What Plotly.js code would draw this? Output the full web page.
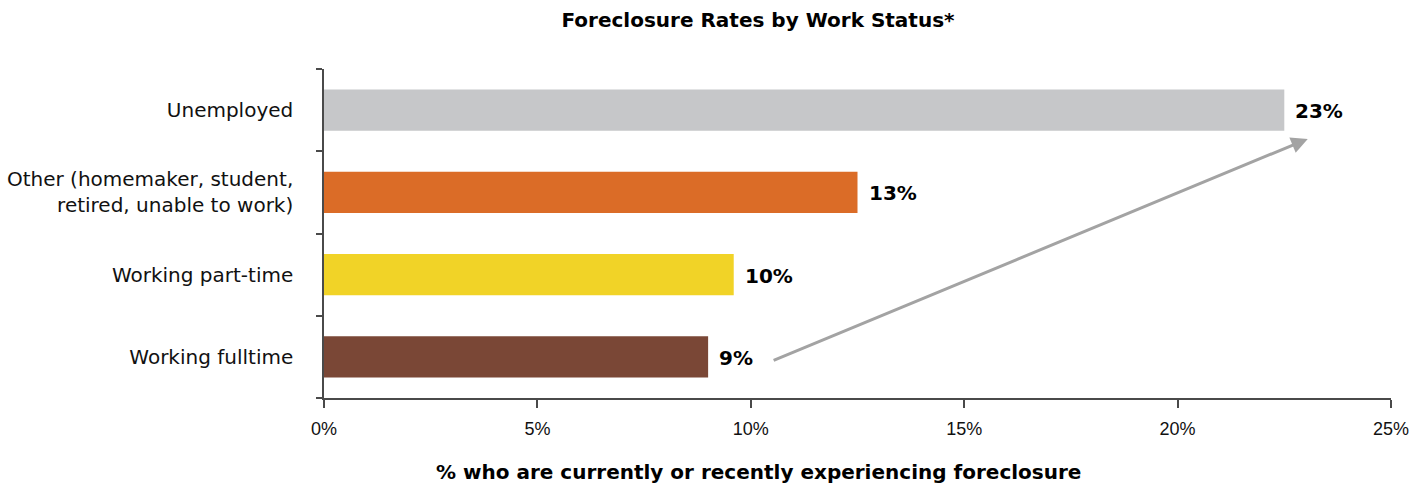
<!DOCTYPE html>
<html>
<head>
<meta charset="utf-8">
<script src="https://cdn.plot.ly/plotly-3.0.1.min.js"></script>
<style>html,body{margin:0;padding:0;background:#fff;}#chart{width:1426px;height:487px;}</style>
</head>
<body>
<div id="chart"></div>
<script>
// Categories (bottom to top)
const categories = ['Working fulltime', 'Working part-time', 'Other (homemaker, student,<br>retired, unable to work)', 'Unemployed'];
const rates = [9.0, 9.6, 12.5, 22.5];
const rateLabels = ['9%', '10%', '13%', '23%'];
const barColors = ['#7a4736', '#f1d327', '#db6c27', '#c6c7c9'];
const xTickVals = [0, 5, 10, 15, 20, 25];
const xTickText = ['0%', '5%', '10%', '15%', '20%', '25%'];
// Trend arrow (x in %, y in category index)
const arrowFrom = [10.5, -0.05];
const arrowTo = [23.05, 2.65];

const trace = {
  type: 'bar',
  orientation: 'h',
  y: categories,
  x: rates,
  marker: {color: barColors},
  hoverinfo: 'x+y'
};

const labelAnns = rates.map((v, i) => ({
  x: v, y: categories[i], xref: 'x', yref: 'y',
  text: '<b>' + rateLabels[i] + '</b>', showarrow: false, xanchor: 'left', xshift: 9, yshift: -1,
  font: {family: 'DejaVu Sans', size: 20, color: '#000'}
}));

const layout = {
  width: 1426, height: 487,
  margin: {l: 324, r: 35, t: 69, b: 89},
  paper_bgcolor: '#fff', plot_bgcolor: '#fff',
  showlegend: false,
  bargap: 0.5,
  title: {
    text: '<b>Foreclosure Rates by Work Status*</b>',
    x: 758 / 1426, xanchor: 'center', xref: 'container',
    y: 0.958, yanchor: 'middle', yref: 'container',
    font: {family: 'DejaVu Sans', size: 20, color: '#000'}
  },
  xaxis: {
    range: [0, 25],
    tickvals: xTickVals, ticktext: xTickText,
    showgrid: false, zeroline: false,
    showline: true, linecolor: '#4a4a4a', linewidth: 1.5,
    ticks: 'outside', ticklen: 8, tickcolor: '#4a4a4a', tickwidth: 1.5,
    ticklabelstandoff: 6,
    tickfont: {family: 'Liberation Sans', size: 18, color: '#111'},
    fixedrange: true
  },
  yaxis: {
    type: 'category',
    range: [-0.5, 3.5],
    showgrid: false, zeroline: false,
    showline: true, linecolor: '#4a4a4a', linewidth: 1.5,
    ticks: 'outside', ticklen: 6, tickcolor: '#4a4a4a', tickwidth: 1.5,
    tickson: 'boundaries',
    ticklabelstandoff: 25,
    tickfont: {family: 'DejaVu Sans', size: 20, color: '#111'},
    fixedrange: true
  },
  annotations: labelAnns.concat([
    {
      x: arrowTo[0], y: arrowTo[1], ax: arrowFrom[0], ay: arrowFrom[1],
      xref: 'x', yref: 'y', axref: 'x', ayref: 'y',
      showarrow: true, arrowhead: 2, arrowsize: 1.1, arrowwidth: 3, arrowcolor: '#a3a3a3',
      text: ''
    },
    {
      text: '<b>% who are currently or recently experiencing foreclosure</b>',
      xref: 'paper', yref: 'paper', x: (758 - 324) / 1067, y: -0.225,
      xanchor: 'center', yanchor: 'middle', showarrow: false,
      font: {family: 'DejaVu Sans', size: 20, color: '#000'}
    }
  ])
};

Plotly.newPlot('chart', [trace], layout, {displayModeBar: false});
</script>
</body>
</html>
